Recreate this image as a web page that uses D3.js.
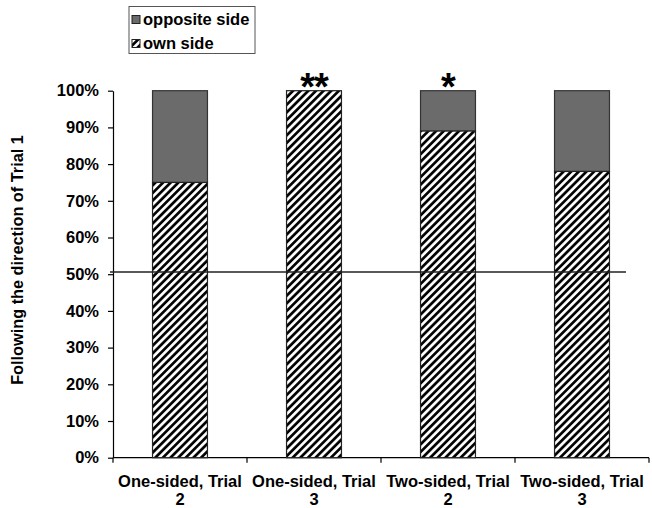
<!DOCTYPE html>
<html><head><meta charset="utf-8">
<script src="https://cdn.jsdelivr.net/npm/d3@7"></script>
<style>
html,body{margin:0;padding:0;background:#fff;}
svg{display:block;font-family:"Liberation Sans",Arial,sans-serif;}
</style></head>
<body>
<svg id="chart" width="652" height="508"></svg>
<script>
const categories = ["One-sided, Trial 2", "One-sided, Trial 3", "Two-sided, Trial 2", "Two-sided, Trial 3"];
const categoryLines = [["One-sided, Trial", "2"], ["One-sided, Trial", "3"], ["Two-sided, Trial", "2"], ["Two-sided, Trial", "3"]];
const ownSide = [75, 100, 89, 78];
const oppositeSide = [25, 0, 11, 22];
const significance = ["", "**", "*", ""];
const yTicks = [0, 10, 20, 30, 40, 50, 60, 70, 80, 90, 100];
const referenceLine = 50.6;
const seriesNames = ["opposite side", "own side"];
const yTitle = "Following the direction of Trial 1";

(function () {
const svg = d3.select("#chart");
const defs = svg.append("defs");
const pw = 5.4;
const pat = defs.append("pattern").attr("id", "hatch").attr("patternUnits", "userSpaceOnUse")
  .attr("width", pw).attr("height", pw).attr("patternTransform", "rotate(45)");
pat.append("rect").attr("width", pw).attr("height", pw).attr("fill", "#fff");
pat.append("line").attr("x1", 1.4).attr("y1", -1).attr("x2", 1.4).attr("y2", pw + 1).attr("stroke", "#000").attr("stroke-width", 2.7);

const mLeft = 113, mRight = 649, mTop = 90.7, mBottom = 457.7;
const x = d3.scaleBand().domain(categories).range([mLeft, mRight]).padding(0);
const y = d3.scaleLinear().domain([0, 100]).range([mBottom, mTop]);
const barW = x.bandwidth() * 0.41;
const grey = "#6b6b6b";
const fs = 16.5;

// y axis
const yAxis = svg.append("g").attr("transform", `translate(${mLeft},0)`)
  .call(d3.axisLeft(y).tickValues(yTicks).tickFormat(d => d + "%").tickSize(5).tickSizeOuter(0).tickPadding(9));
yAxis.select(".domain").attr("stroke", "#000").attr("stroke-width", 1.2);
yAxis.selectAll(".tick line").attr("stroke", "#000").attr("stroke-width", 1.2);
yAxis.selectAll("text").attr("font-size", fs).attr("font-weight", "bold").attr("font-family", "'Liberation Sans', Arial, sans-serif").attr("fill", "#000");

// x axis
const xg = svg.append("g");
xg.append("line").attr("x1", mLeft).attr("x2", mRight).attr("y1", mBottom).attr("y2", mBottom).attr("stroke", "#000").attr("stroke-width", 1.2);
const boundaries = categories.map(c => x(c)).concat([x(categories[categories.length - 1]) + x.bandwidth()]);
xg.selectAll("line.tk").data(boundaries).enter().append("line").attr("class", "tk")
  .attr("x1", d => d).attr("x2", d => d).attr("y1", mBottom).attr("y2", mBottom + 5).attr("stroke", "#000").attr("stroke-width", 1.2);
const lab = xg.selectAll("text.xl").data(categories).enter().append("text").attr("class", "xl")
  .attr("x", d => x(d) + x.bandwidth() / 2).attr("text-anchor", "middle")
  .attr("font-size", fs).attr("font-weight", "bold").attr("fill", "#000");
lab.each(function(d, i) {
  const t = d3.select(this);
  categoryLines[i].forEach((ln, j) => t.append("tspan").attr("x", x(d) + x.bandwidth() / 2).attr("y", 487 + j * 17.5).text(ln));
});

// bars
const bars = svg.append("g");
categories.forEach((c, i) => {
  const bx = x(c) + (x.bandwidth() - barW) / 2;
  if (oppositeSide[i] > 0) {
    bars.append("rect").attr("x", bx).attr("width", barW)
      .attr("y", y(ownSide[i] + oppositeSide[i])).attr("height", y(ownSide[i]) - y(ownSide[i] + oppositeSide[i]))
      .attr("fill", grey).attr("stroke", "#333").attr("stroke-width", 1.2);
  }
  bars.append("rect").attr("x", bx).attr("width", barW)
    .attr("y", y(ownSide[i])).attr("height", y(0) - y(ownSide[i]))
    .attr("fill", "url(#hatch)").attr("stroke", "#222").attr("stroke-width", 1.2);
  if (significance[i]) {
    svg.append("text").attr("x", x(c) + x.bandwidth() / 2).attr("y", y(100) + 9)
      .attr("text-anchor", "middle").attr("font-size", 38).attr("font-weight", "bold")
      .attr("letter-spacing", -1).text(significance[i]);
  }
});

// reference line
svg.append("line").attr("x1", mLeft - 3).attr("x2", 626).attr("y1", y(referenceLine)).attr("y2", y(referenceLine))
  .attr("stroke", "#222").attr("stroke-width", 1.3);

// y title
svg.append("text").attr("transform", `translate(23,260) rotate(-90)`).attr("text-anchor", "middle")
  .attr("font-size", 16.3).attr("font-weight", "bold").attr("fill", "#000").text(yTitle);

// legend
const lg = svg.append("g");
lg.append("rect").attr("x", 129).attr("y", 6.5).attr("width", 126).attr("height", 47).attr("fill", "none").attr("stroke", "#555").attr("stroke-width", 1);
const fills = [grey, "url(#hatch)"];
seriesNames.forEach((n, i) => {
  lg.append("rect").attr("x", 132).attr("y", 15.5 + i * 24).attr("width", 8).attr("height", 8)
    .attr("fill", fills[i]).attr("stroke", "#222").attr("stroke-width", 1);
  lg.append("text").attr("x", 143).attr("y", 25 + i * 24).attr("font-size", fs).attr("font-weight", "bold").text(n);
});
})();
</script>
</body></html>
